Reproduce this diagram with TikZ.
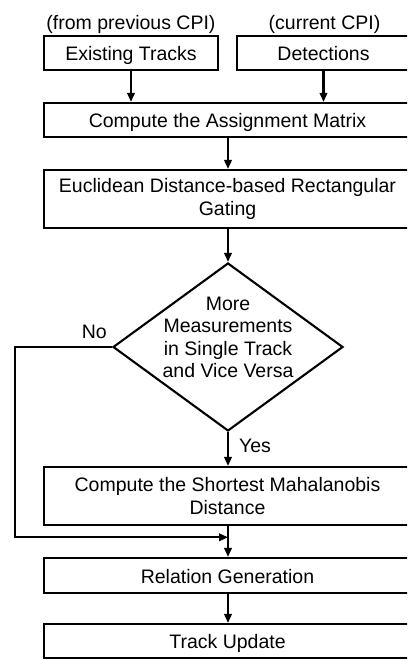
\documentclass[tikz,border=0pt]{standalone}
\usepackage{fontspec}
\setmainfont{Liberation Sans}
\usetikzlibrary{shapes.geometric,arrows.meta,calc,positioning}
\begin{document}
\begin{tikzpicture}[x=1pt,y=1pt,
  txt/.style={font=\fontsize{19.5}{22.4}\selectfont},
  box/.style={txt,draw,line width=2.1pt,rectangle,inner sep=0pt,align=center,minimum height=34pt},
  oneline/.style={text height=16pt,text depth=0pt},
  widebox/.style={box,minimum width=367pt},
  decision/.style={draw,line width=2.1pt,diamond,inner sep=0pt,minimum width=230pt,minimum height=168pt},
  lbl/.style={txt,inner sep=0pt},
  arr/.style={line width=2.1pt,-{Triangle[length=9pt,width=7.5pt]}}]
\useasboundingbox (0,0) rectangle (407,660);
\clip (0,0) rectangle (407,660);

% source labels
\node[lbl,anchor=base] (srcA) at (131,630) {(from previous CPI)};
\node[lbl,anchor=base] (srcB) at (324.5,630) {(current CPI)};

% input boxes
\node[box,oneline,minimum width=174pt] (tracks) at (131,607) {Existing Tracks};
\node[box,oneline,minimum width=173pt] (det) at (323.5,607) {Detections};

% main column
\node[widebox,oneline] (asg) at (227.5,540) {Compute the Assignment Matrix};
\node[widebox,minimum height=58pt] (gate) at (227.5,461) {Euclidean Distance-based Rectangular\\Gating};
\node[decision] (dec) at (228,313) {};
\node[lbl,align=center] (dectext) at (228,322.5) {More\\Measurements\\in Single Track\\and Vice Versa};
\node[widebox,minimum height=58pt] (maha) at (227.5,164) {Compute the Shortest Mahalanobis\\Distance};
\node[widebox,oneline,minimum height=35pt] (rel) at (227.5,84.5) {Relation Generation};
\node[widebox,oneline] (upd) at (227.5,19) {Track Update};

% helper points for the bypass branch
\coordinate (join) at ($(maha.south)!0.364!(rel.north)$);
\coordinate (joinx) at (join -| dec);
\coordinate (loopx) at (15,0);

% connectors
\draw[arr] (tracks.south) -- (tracks.south |- asg.north);
\draw[arr] (det.south) -- (det.south |- asg.north);
\draw[arr] (asg.south -| dec) -- (gate.north -| dec);
\draw[arr] (gate.south -| dec) -- (dec.north);
\draw[arr] (dec.south) -- node[lbl,anchor=west,xshift=10pt,yshift=3pt] (yes) {Yes} (maha.north -| dec);
\draw[arr] (maha.south -| dec) -- (rel.north -| dec);
\draw[arr] (dec.west) -- (dec.west -| loopx) |- (joinx);
\node[lbl,above left=8pt and 5pt] (no) at (dec.west) {No};
\draw[arr] (rel.south -| dec) -- (upd.north -| dec);
\end{tikzpicture}
\end{document}
